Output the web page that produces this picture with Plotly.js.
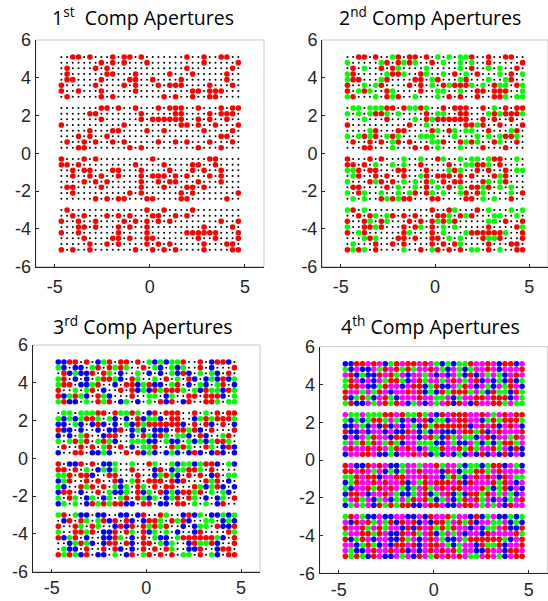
<!DOCTYPE html>
<html>
<head>
<meta charset="utf-8">
<script src="https://cdn.plot.ly/plotly-3.0.1.min.js"></script>
<style>html,body{margin:0;padding:0;background:#fff}#chart{width:548px;height:601px}</style>
</head>
<body>
<div id="chart"></div>
<script>
// Aperture grid coordinates (columns, rows)
const xCols = [-4.65,-4.35,-4.05,-3.75,-3.45,-3.15,-2.85,-2.55,-2.25,-1.95,-1.65,-1.35,-1.05,-0.75,-0.45,-0.15,
               0.15,0.45,0.75,1.05,1.35,1.65,1.95,2.25,2.55,2.85,3.15,3.45,3.75,4.05,4.35,4.65];
const yRows = [5.1,4.8,4.5,4.2,3.9,3.6,3.3,3.0,
               2.4,2.1,1.8,1.5,1.2,0.9,0.6,0.3,
               -0.3,-0.6,-0.9,-1.2,-1.5,-1.8,-2.1,-2.4,
               -3.0,-3.3,-3.6,-3.9,-4.2,-4.5,-4.8,-5.1];

const firstCompCols = [
 [2,3,5,9,11,12,14,22,25,28,29],[7,9,11,15,25,31],[1,6,8,22,30],[1,8,9,13,19,23,29],
 [1,2,7,12,13,16,21,29],[0,6,11,13,17,19,20,21,26,30],[0,3,7,13,23,24,26,27,28],[1,7,9,18,20,23,26,27],
 [7,8,10,13,17,19,20,21,24,28,30,31],[5,6,14,20,21,26,28,29,30],[7,14,16,17,18,19,20,21,24,26,29],[0,11,21,22,24,27,31],
 [5,9,10,15,18,25,30],[3,5,8,28,29],[1,4,6,9,11,17,20,22,26,30],[3,4,12,14,24,28],
 [0,4,6,16,26,27],[0,1,3,13,18,23,24,27],[2,4,5,9,10,14,19,23,25,28],[2,5,7,10,14,16,17,18,20,22,26,28],
 [4,6,8,14,17,19,20,24,28],[1,2,7,14,18,22,23,25],[2,12,14,21,23,31],[6,8,10,11,15,16,21,22,29],
 [1,15,18,23],[2,4,8,10,12,16,17,20,22],[0,3,6,11,13,15,17,19,28,31],[3,4,6,10,12,15,25,30],
 [0,3,10,15,22,23,24,25,26,27,31],[4,9,10,12,15,16,24,27,31],[5,8,10,15,17,19,25,29,30],[0,2,5,13,16,18,20,25,30,31]
];

// Component of every aperture as seen in panel 4 (R=1st, G=2nd, B=3rd, M=4th)
const compRows = [
 "BBRRMBMBGGRRRMRMGBGBGGRMRMRBRRBM","GBMBBMGRMRGMGMRGMGBMGBGMMGMBMMRR","MRBGBBMRBGMBMRGMBMBMGBMBMGMGBMMR","GRMBMBRGRMGBRMGRMGRBRGRMBMBGBMBG",
 "GRRMBBGMRMBMBRBGRBBMGRMBMGBMGRMB","RMMGRGMRBMRGRMBGBRGRRRGMGBMGGBGG","RBGMGBMRGBMRMMRMGGMBGMRRMRRRMBMG","GRBBMGMRGBMBGMBMGMRBRMBGRRMGGMGG",
 "MGGMGGGRRMRGGRGMBRMRRRMMRMGMMRMR","GBGBGRRGMGBMBRMBGGBMBMRRBGRGBMBG","BBMGBMBRBMBRGBMGRRRRBRBMBRMBMGRB","RBBMBMRBMBBMRBGBMBBBRRMGRBMGRRMR",
 "BMBMGRMMBGRMMBRBGBRGMGGBRGBMMGMR","GMGRGRMGRGBMMGGGBBMGBBMGBGBGRRGM","MRMMRMRMGMRMMBMGGMRMRGMGRMRGRBRB","BMMRRMBBGBMRBRMBGBMBGBMBRBMBRBMB",
 "RMBBRMRMBBGMMGMMRGMMGBGGBGRMBMGB","RRMRMGMBGBGMRMMRMBMMBGGRBGRRMRMM","GGRRRMBMMRRMMRGMMBGBGBRGRMRBMRGG","BGRMRBRBMRMBMGRMRGBRRBBRMRBGRMBM",
 "GBMMRGRMRMGBGMRGMRMRGMRRBGBGMBRB","BRRMBMMRMGBBGMRBGMRBGBRRGMRGMGBM","GMRGMBGMBGMGRMRGBGMBGBMRGRBMBGMR","BGMGMBRGRGRRBBMRBMBBMRRMGMGMBMRM",
 "GRMGBBMBBMMBBMBBMMRGMMBMBGMBBGBG","MBRMRGRGRBRMRBMBMRGMRGMBMMGGMBGB","RMMRGMRGMMBRBRMRGMGBMMBMBGGMRBBR","GMMRRGRMBBRMRGMRBGMGMBMMBMRMMMRG",
 "RBGRMBMMBBRGMBMRMGBBMGRRRRRRGBMR","MMBGRGBMBRRMRBMRRMGBGMMBRGGRBMMR","MGBBMRMMRMRBMBMRRGMRGMRBBGMMBRRM","RGRGBMRBBMGMBRMGGRGMBRGGRMRGBMRR"
];

const compColors = ["#ff0000","#00ff00","#0000ff","#ff00ff"];
const panelTitles = ["1<sup>st</sup>  Comp Apertures","2<sup>nd</sup> Comp Apertures","3<sup>rd</sup> Comp Apertures","4<sup>th</sup> Comp Apertures"];
const xTicks = [-5,0,5];
const yTicks = [-6,-4,-2,0,2,4,6];

// component index (1..4) for every aperture; panel 1 decides the 1st component
const letterToComp = {R:1,G:2,B:3,M:4};
const comp = compRows.map((row,r)=>row.split('').map((ch,c)=>{
  if (firstCompCols[r].includes(c)) return 1;
  const k = letterToComp[ch];
  return k===1 ? 4 : k;
}));

const W=548,H=601;
const boxes = [ // pixel boxes [left,right,top,bottom]
  [35.7,264,40,266.7],
  [322,548,40,266.7],
  [32.7,260,345,571.7],
  [319.7,547.7,346.7,573.3]
];

const traces=[];
const layout={width:W,height:H,margin:{l:0,r:0,t:0,b:0},showlegend:false,
  paper_bgcolor:'#fff',plot_bgcolor:'#fff',annotations:[],shapes:[]};

boxes.forEach((b,i)=>{
  const p=i+1;
  const xa = p===1?'x':'x'+p, ya = p===1?'y':'y'+p;
  const xk = p===1?'xaxis':'xaxis'+p, yk = p===1?'yaxis':'yaxis'+p;
  const ux=[],uy=[];
  comp.forEach((row,r)=>row.forEach((k,c)=>{ if(k>p){ux.push(xCols[c]);uy.push(yRows[r]);} }));
  traces.push({type:'scatter',mode:'markers',x:ux,y:uy,xaxis:xa,yaxis:ya,
    marker:{size:2,color:'#000'},hoverinfo:'skip'});
  for(let k=1;k<=p;k++){
    const sx=[],sy=[];
    comp.forEach((row,r)=>row.forEach((v,c)=>{ if(v===k){sx.push(xCols[c]);sy.push(yRows[r]);} }));
    traces.push({type:'scatter',mode:'markers',x:sx,y:sy,xaxis:xa,yaxis:ya,
      marker:{size:5.6,color:compColors[k-1],line:{width:0}},hoverinfo:'skip'});
  }
  const common={range:[-6,6],showgrid:false,zeroline:false,showline:true,linecolor:'#262626',linewidth:1,
    ticks:'inside',ticklen:3,tickcolor:'#262626',mirror:false,fixedrange:true,
    tickfont:{family:'Liberation Sans, Arial, sans-serif',size:18,color:'#262626'}};
  layout[xk]=Object.assign({},common,{domain:[b[0]/W,b[1]/W],anchor:ya,tickvals:xTicks,ticktext:xTicks.map(String),
    ticklabelstandoff:(i<2?4:0)});
  layout[yk]=Object.assign({},common,{domain:[1-b[3]/H,1-b[2]/H],anchor:xa,tickvals:yTicks,ticktext:yTicks.map(String)});
  layout.shapes.push({type:'rect',xref:xa+' domain',yref:ya+' domain',x0:0,x1:1,y0:0,y1:1,
    line:{color:'#c8c8c8',width:1},layer:'below'});
  layout.annotations.push({text:panelTitles[i],xref:'paper',yref:'paper',
    x:(i%2===0?143:430)/W, y:1-(i<2?17:325)/H, xanchor:'center',yanchor:'middle',showarrow:false,
    font:{family:'Open Sans, sans-serif',size:19.5,color:'#000'}});
});

Plotly.newPlot('chart',traces,layout,{displayModeBar:false,staticPlot:true});
</script>
</body>
</html>
